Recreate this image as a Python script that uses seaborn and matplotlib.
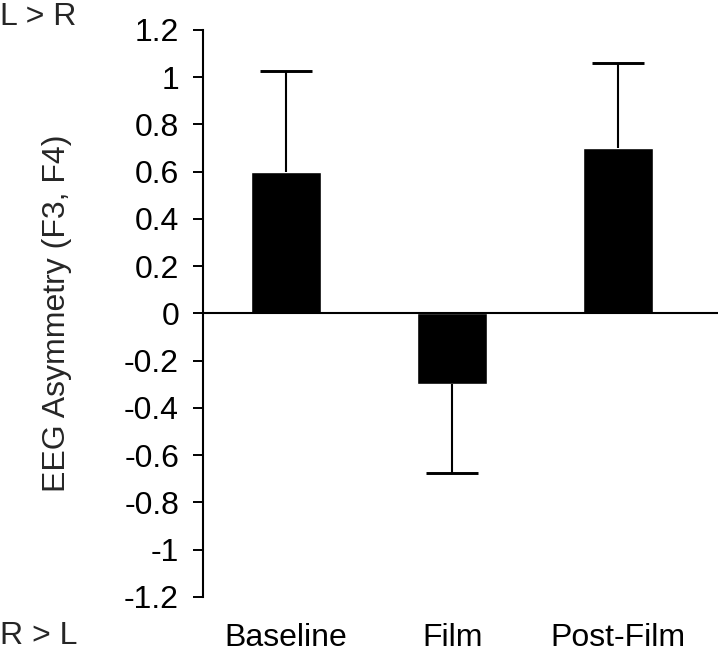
import numpy as np
import pandas as pd
import matplotlib
matplotlib.use("Agg")
import matplotlib.pyplot as plt
import seaborn as sns

conditions = ["Baseline", "Film", "Post-Film"]
asymmetry = [0.6, -0.3, 0.7]
sem = [0.425, 0.375, 0.36]
yticks = [1.2, 1, 0.8, 0.6, 0.4, 0.2, 0, -0.2, -0.4, -0.6, -0.8, -1, -1.2]

df = pd.DataFrame({"condition": conditions, "asym": asymmetry, "sem": sem})

sns.set_style("white")
plt.rcParams["font.family"] = ["Liberation Sans", "DejaVu Sans"]
fs = 23

fig = plt.figure(figsize=(7.18, 6.52), dpi=100)
ax = fig.add_axes([0.2827, 0.0844, 0.7173, 0.8696])

sns.barplot(data=df, x="condition", y="asym", color="black", width=0.42,
            saturation=1, errorbar=None, ax=ax)

# one-sided error bars, pointing away from zero
xpos = np.arange(len(conditions))
tips = [v + e if v > 0 else v - e for v, e in zip(asymmetry, sem)]
ax.vlines(xpos, asymmetry, tips, color="black", lw=1.5, zorder=1)
ax.plot(xpos, tips, ls="none", marker="_", markersize=37, mew=2.1,
        color="black", zorder=1)

ax.axhline(0, color="black", lw=1.5, zorder=3)
ax.set_xlim(-0.5, 2.6)
ax.set_ylim(-1.2, 1.2)
ax.set_yticks(yticks)
ax.set_yticklabels([f"{t:g}" for t in yticks])

for s in ["top", "right", "bottom"]:
    ax.spines[s].set_visible(False)
ax.spines["left"].set_color("black")
ax.spines["left"].set_linewidth(1.5)

ax.tick_params(axis="y", direction="out", length=7.2, width=1.4, pad=10,
               labelsize=fs, colors="black", left=True)
ax.tick_params(axis="x", length=0, pad=19, labelsize=fs, colors="black")
ax.set_xlabel("")
ax.set_ylabel("EEG Asymmetry (F3, F4)", fontsize=fs)
ax.yaxis.set_label_coords(-0.254, 0.5)

fig.text(0.0, 0.9617, "L > R", fontsize=fs, ha="left", va="baseline")
fig.text(0.0, 0.0125, "R > L", fontsize=fs, ha="left", va="baseline")

fig.savefig("out.png", dpi=100)
